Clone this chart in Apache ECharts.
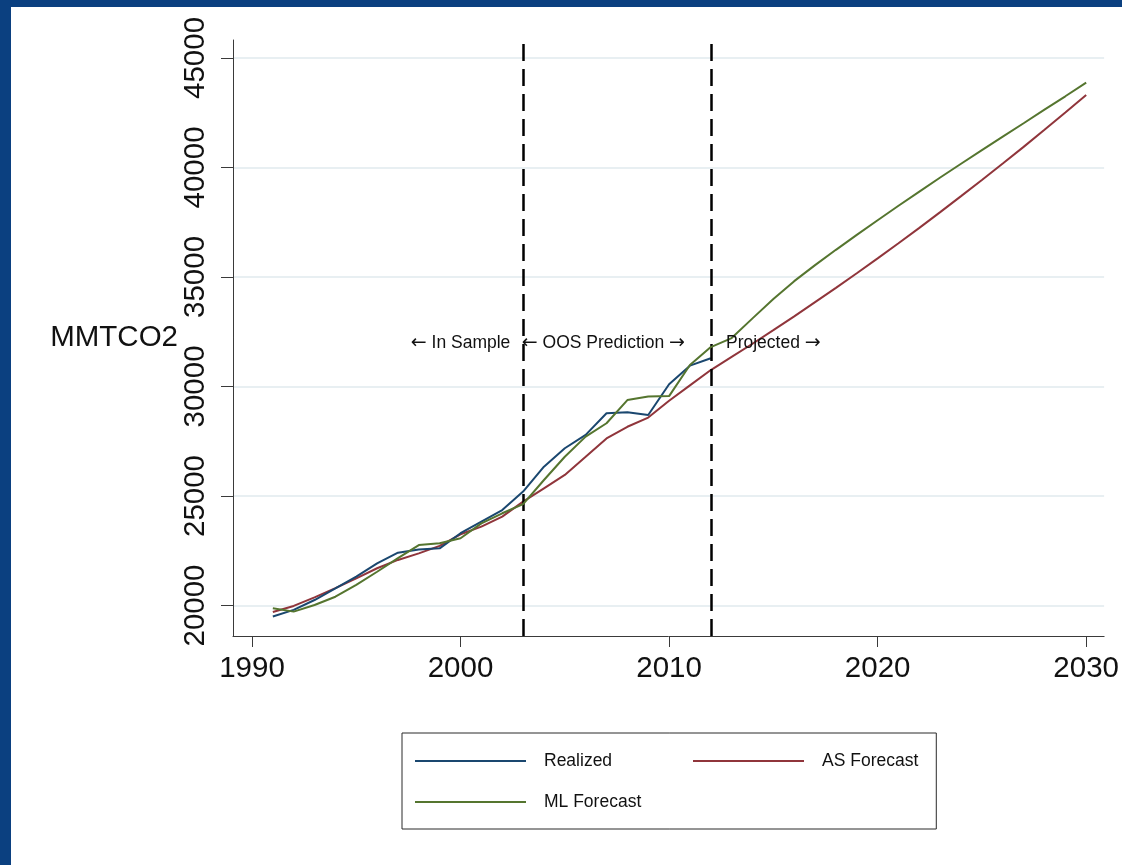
<!DOCTYPE html>
<html>
<head>
<meta charset="utf-8">
<script src="https://cdn.jsdelivr.net/npm/echarts@6/dist/echarts.min.js"></script>
<style>
  html, body { margin: 0; padding: 0; background: #ffffff; }
  #wrap { position: relative; width: 1122px; height: 865px; overflow: hidden; }
  #chart { position: absolute; left: 0; top: 0; width: 1122px; height: 865px; }
  .bar { position: absolute; background: #0b4080; z-index: 5; }
  #barTop { left: 0; top: 0; width: 1122px; height: 7px; }
  #barLeft { left: 0; top: 0; width: 11px; height: 865px; }
</style>
</head>
<body>
<div id="wrap">
  <div id="chart"></div>
  <div class="bar" id="barTop"></div>
  <div class="bar" id="barLeft"></div>
</div>
<script>
// Emissions, MMTCO2: realized history and two forecast paths
const realizedYears = [1991, 1992, 1993, 1994, 1995, 1996, 1997, 1998, 1999, 2000,
  2001, 2002, 2003, 2004, 2005, 2006, 2007, 2008, 2009, 2010, 2011, 2012];
const realized = [19500, 19800, 20250, 20780, 21320, 21920, 22410, 22560, 22610, 23300,
  23830, 24360, 25200, 26340, 27180, 27790, 28780, 28820, 28700, 30100, 30950, 31290];

const forecastYears = [1991, 1992, 1993, 1994, 1995, 1996, 1997, 1998, 1999, 2000,
  2001, 2002, 2003, 2004, 2005, 2006, 2007, 2008, 2009, 2010,
  2011, 2012, 2013, 2014, 2015, 2016, 2017, 2018, 2019, 2020,
  2021, 2022, 2023, 2024, 2025, 2026, 2027, 2028, 2029, 2030];
const asForecast = [19700, 19980, 20370, 20790, 21240, 21700, 22080, 22380, 22720, 23250,
  23600, 24060, 24740, 25350, 25960, 26790, 27630, 28160, 28580, 29350,
  30050, 30750, 31350, 31950, 32570, 33200, 33850, 34500, 35170, 35850,
  36540, 37240, 37960, 38690, 39430, 40180, 40940, 41720, 42510, 43310];
const mlForecast = [19870, 19720, 20020, 20400, 20940, 21540, 22160, 22760, 22840, 23070,
  23750, 24210, 24630, 25730, 26790, 27710, 28320, 29380, 29540, 29560,
  30980, 31800, 32210, 33110, 33990, 34810, 35540, 36240, 36920, 37590,
  38250, 38900, 39540, 40170, 40790, 41410, 42020, 42640, 43250, 43870];

// Period boundaries (end of sample, end of realized data)
const periodBreaks = [2003, 2012];

// Period annotations ({a|...} marks the arrow glyphs)
const noteYears = [2000, 2006.85, 2015];
const noteValues = [32000, 32000, 32000];
const noteTexts = ['{a|\u2190} In Sample', '{a|\u2190} OOS Prediction {a|\u2192}', 'Projected {a|\u2192}'];

// Axis ticks
const xTicks = [1990, 2000, 2010, 2020, 2030];
const yTicks = [20000, 25000, 30000, 35000, 40000, 45000];

const seriesNames = ['Realized', 'AS Forecast', 'ML Forecast'];
const seriesColors = ['#1a476f', '#90353b', '#55752f'];

const FONT = "'Liberation Sans', Arial, Helvetica, sans-serif";
const INK = '#111111';

const zip = (xs, ys) => xs.map((x, i) => [x, ys[i]]);

const chart = echarts.init(document.getElementById('chart'), null, { renderer: 'canvas' });

chart.setOption({
  backgroundColor: '#ffffff',
  animation: false,
  textStyle: { fontFamily: FONT },
  grid: { left: 233, right: 15, top: 40, bottom: 229, containLabel: false },
  xAxis: {
    type: 'value',
    min: 1989.09,
    max: 2030.86,
    axisLine: { show: true, onZero: false, lineStyle: { color: '#3a3a3a', width: 1 } },
    axisTick: { show: true, customValues: xTicks, length: 11, lineStyle: { color: '#3a3a3a', width: 1 } },
    axisLabel: {
      customValues: xTicks, margin: 18, color: INK, fontSize: 29.5, fontFamily: FONT,
      formatter: v => String(v)
    },
    splitLine: { show: false }
  },
  yAxis: {
    type: 'value',
    min: 18607,
    max: 45820,
    name: 'MMTCO2',
    nameLocation: 'middle',
    nameRotate: 0,
    nameGap: 55,
    nameTextStyle: { color: INK, fontSize: 29.5, fontFamily: FONT },
    axisLine: { show: true, onZero: false, lineStyle: { color: '#3a3a3a', width: 1 } },
    axisTick: { show: true, customValues: yTicks, length: 12, lineStyle: { color: '#3a3a3a', width: 1 } },
    axisLabel: {
      customValues: yTicks, rotate: 90, margin: 22, color: INK, fontSize: 29.5, fontFamily: FONT,
      formatter: v => String(v)
    },
    splitLine: { show: true, lineStyle: { color: '#e8eff2', width: 2 } }
  },
  legend: {
    left: 402,
    top: 733,
    orient: 'horizontal',
    width: 700,
    padding: [16, 18, 15, 12],
    itemGap: 17,
    itemWidth: 111,
    itemHeight: 24,
    borderColor: '#2a2a2a',
    borderWidth: 1,
    borderRadius: 0,
    backgroundColor: '#ffffff',
    itemStyle: { opacity: 0 },
    textStyle: {
      color: INK, fontSize: 17.5, fontFamily: FONT, lineHeight: 24,
      padding: [0, 0, 0, 13]
    },
    selectedMode: false,
    data: [
      { name: 'Realized', textStyle: { width: 131 } },
      'AS Forecast',
      '\n',
      'ML Forecast'
    ]
  },
  series: [
    {
      name: seriesNames[0],
      type: 'line',
      data: zip(realizedYears, realized),
      showSymbol: false,
      symbol: 'none',
      color: seriesColors[0],
      lineStyle: { color: seriesColors[0], width: 2 },
      z: 4,
      markLine: {
        silent: true,
        symbol: ['none', 'none'],
        label: { show: false },
        lineStyle: { color: '#000000', width: 2.5, type: [17, 8] },
        data: periodBreaks.map(x => ({ xAxis: x }))
      }
    },
    {
      name: seriesNames[1],
      type: 'line',
      data: zip(forecastYears, asForecast),
      showSymbol: false,
      symbol: 'none',
      color: seriesColors[1],
      lineStyle: { color: seriesColors[1], width: 2 },
      z: 3
    },
    {
      name: seriesNames[2],
      type: 'line',
      data: zip(forecastYears, mlForecast),
      showSymbol: false,
      symbol: 'none',
      color: seriesColors[2],
      lineStyle: { color: seriesColors[2], width: 2 },
      z: 5
    },
    {
      name: 'notes',
      type: 'scatter',
      data: noteYears.map((x, i) => [x, noteValues[i], noteTexts[i]]),
      symbolSize: 1,
      itemStyle: { color: 'transparent', opacity: 1 },
      silent: true,
      z: 6,
      label: {
        show: true,
        position: 'inside',
        formatter: p => p.data[2],
        color: INK,
        opacity: 1,
        textBorderWidth: 0,
        fontSize: 17.5,
        fontFamily: FONT,
        rich: {
          a: { color: INK, fontSize: 19, fontFamily: "'DejaVu Sans', sans-serif", textBorderWidth: 0 }
        }
      }
    }
  ]
});
</script>
</body>
</html>
